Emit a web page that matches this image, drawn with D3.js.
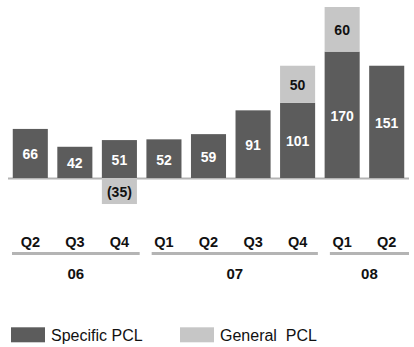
<!DOCTYPE html>
<html>
<head>
<meta charset="utf-8">
<script src="https://cdn.jsdelivr.net/npm/d3@7"></script>
<style>
  html, body { margin: 0; padding: 0; background: #fff; }
  svg { display: block; font-family: Arial, "Liberation Sans", sans-serif; }
</style>
</head>
<body>
<svg id="chart" width="414" height="347"></svg>
<script>
// ---- data ----
const quarters = ["Q2", "Q3", "Q4", "Q1", "Q2", "Q3", "Q4", "Q1", "Q2"];
const years = ["06", "06", "06", "07", "07", "07", "07", "08", "08"];
const specificPCL = [66, 42, 51, 52, 59, 91, 101, 170, 151];
const generalPCL = [null, null, -35, null, null, null, 50, 60, null];
const yearGroups = ["06", "07", "08"];
const legendLabels = ["Specific PCL", "General  PCL"];

// ---- styles ----
const darkColor = "#5c5c5c";
const lightColor = "#c6c6c6";
const lineColor = "#b4b4b4";

const svg = d3.select("#chart");
const idx = d3.range(quarters.length);

const x = d3.scaleBand().domain(idx).range([8, 409]).paddingInner(0.213).paddingOuter(0.107);
const y = d3.scaleLinear().domain([0, 230]).range([178, 7]);
const bw = x.bandwidth();

// baseline
svg.append("line")
  .attr("x1", x.range()[0]).attr("x2", x.range()[1])
  .attr("y1", y(0) + 0.5).attr("y2", y(0) + 0.5)
  .attr("stroke", lineColor).attr("stroke-width", 2);

// specific bars
svg.selectAll("rect.spec").data(idx).join("rect")
  .attr("class", "spec")
  .attr("x", i => x(i)).attr("width", bw)
  .attr("y", i => y(specificPCL[i])).attr("height", i => y(0) - y(specificPCL[i]))
  .attr("fill", darkColor);

// general bars (stacked on top if positive, below axis if negative)
const genIdx = idx.filter(i => generalPCL[i] !== null);
function genTop(i) { return generalPCL[i] > 0 ? y(specificPCL[i] + generalPCL[i]) : y(0); }
function genBot(i) { return generalPCL[i] > 0 ? y(specificPCL[i]) : y(generalPCL[i]); }
svg.selectAll("rect.gen").data(genIdx).join("rect")
  .attr("class", "gen")
  .attr("x", i => x(i)).attr("width", bw)
  .attr("y", genTop).attr("height", i => genBot(i) - genTop(i))
  .attr("fill", lightColor);

// value labels
svg.selectAll("text.specLbl").data(idx).join("text")
  .attr("class", "specLbl")
  .attr("x", i => x(i) + bw / 2)
  .attr("y", i => (y(0) + y(specificPCL[i])) / 2 + 1)
  .attr("text-anchor", "middle").attr("dominant-baseline", "central")
  .attr("font-size", 14).attr("font-weight", "bold").attr("fill", "#fff")
  .text(i => specificPCL[i]);

svg.selectAll("text.genLbl").data(genIdx).join("text")
  .attr("class", "genLbl")
  .attr("x", i => x(i) + bw / 2)
  .attr("y", i => (genTop(i) + genBot(i)) / 2 + 1)
  .attr("text-anchor", "middle").attr("dominant-baseline", "central")
  .attr("font-size", 14).attr("font-weight", "bold").attr("fill", "#111")
  .text(i => generalPCL[i] < 0 ? "(" + Math.abs(generalPCL[i]) + ")" : generalPCL[i]);

// quarter labels
svg.selectAll("text.q").data(idx).join("text")
  .attr("class", "q")
  .attr("x", i => x(i) + bw / 2)
  .attr("y", 246.5)
  .attr("text-anchor", "middle")
  .attr("font-size", 14.5).attr("font-weight", "bold").attr("fill", "#111")
  .text(i => quarters[i]);

// year group lines and labels
const shift = 4, halfGap = 6;
const groups = yearGroups.map((yr, g) => {
  const members = idx.filter(i => years[i] === yr);
  const first = members[0], last = members[members.length - 1];
  const left = g === 0 ? x.range()[0] + shift : (x(first) + x(first - 1) + bw) / 2 + shift + halfGap;
  const right = g === yearGroups.length - 1 ? x.range()[1] : (x(last) + bw + x(last + 1)) / 2 + shift - halfGap;
  return { yr, left, right };
});

svg.selectAll("line.grp").data(groups).join("line")
  .attr("class", "grp")
  .attr("x1", d => d.left).attr("x2", d => d.right)
  .attr("y1", 253.5).attr("y2", 253.5)
  .attr("stroke", lineColor).attr("stroke-width", 3);

svg.selectAll("text.yr").data(groups).join("text")
  .attr("class", "yr")
  .attr("x", d => (d.left + d.right) / 2)
  .attr("y", 278.5)
  .attr("text-anchor", "middle")
  .attr("font-size", 15).attr("font-weight", "bold").attr("fill", "#111")
  .text(d => d.yr);

// legend
const legend = svg.append("g");
const legendX = [11, 180];
const legendColors = [darkColor, lightColor];
legendLabels.forEach((lbl, k) => {
  legend.append("rect")
    .attr("x", legendX[k]).attr("y", 327.3).attr("width", 34).attr("height", 15)
    .attr("fill", legendColors[k]);
  legend.append("text")
    .attr("x", legendX[k] + 40).attr("y", 341)
    .attr("font-size", 16).attr("fill", "#111")
    .style("white-space", "pre")
    .text(lbl);
});
</script>
</body>
</html>
